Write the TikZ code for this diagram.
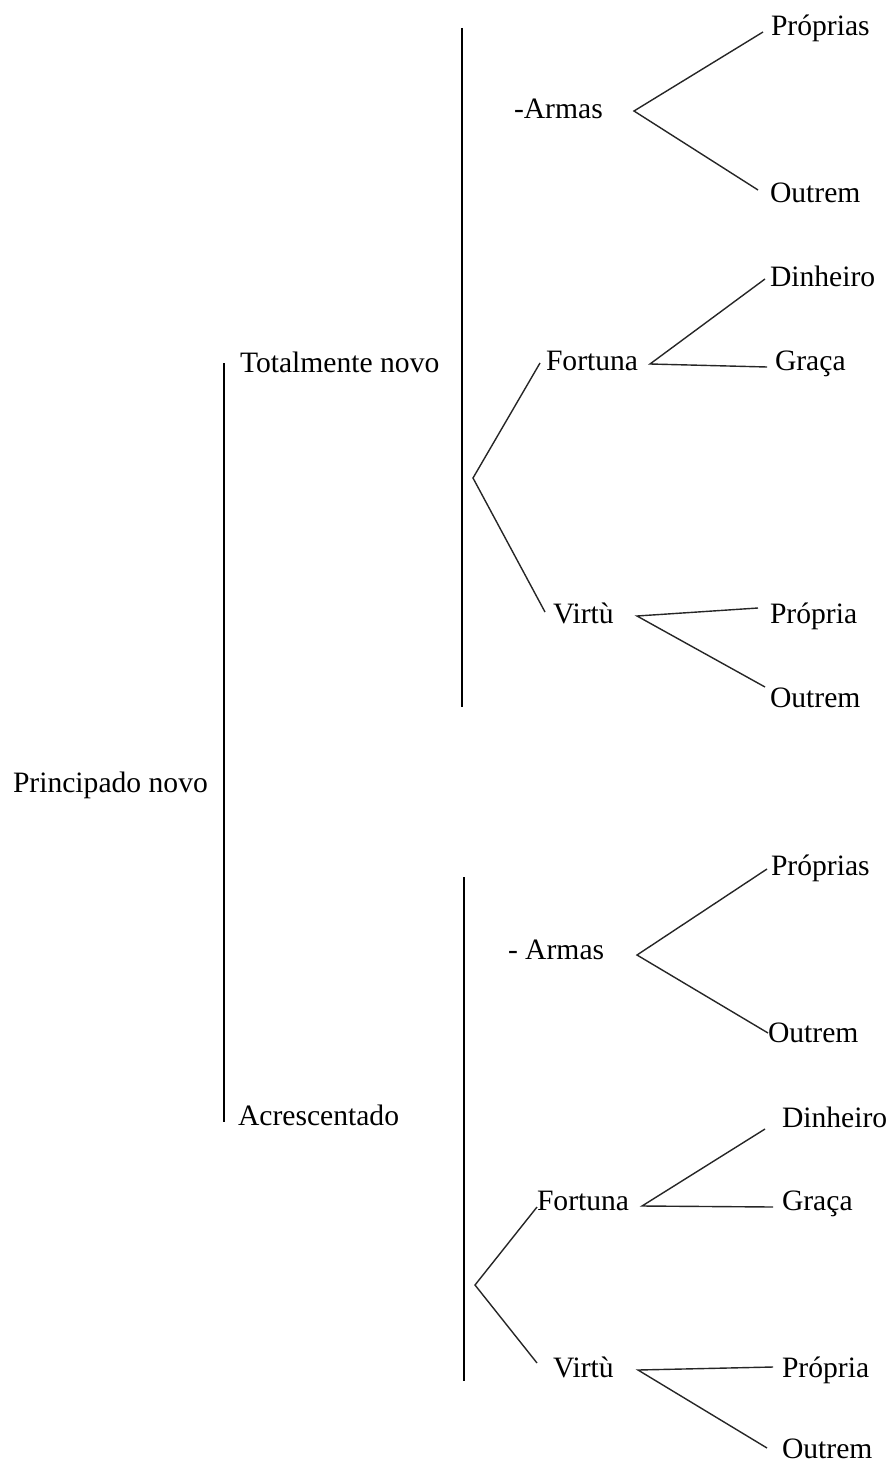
\documentclass[tikz,border=0pt]{standalone}
\usepackage{fontspec}
\setmainfont{Liberation Serif}
\begin{document}
\begin{tikzpicture}[x=0.5pt,y=-0.5pt,
  label/.style={anchor=base west,inner sep=0pt,outer sep=0pt,
    font=\fontsize{14.8}{17}\selectfont},
  link/.style={line width=0.7pt,draw=black!85},
  bar/.style={line width=0.8pt,draw=black}]
\useasboundingbox (0,0) rectangle (891,1465);

% ---- labels ----
\node[label] (root) at (13,792) {Principado novo};
\node[label] (tot)  at (240,372) {Totalmente novo};
\node[label] (acr)  at (238,1125) {Acrescentado};

% upper branch
\node[label] (armA) at (514,119) {-Armas};
\node[label] (proA) at (771,36) {Próprias};
\node[label] (outA) at (770,203) {Outrem};
\node[label] (forA) at (546,370) {Fortuna};
\node[label] (dinA) at (770,287) {Dinheiro};
\node[label] (graA) at (775,370) {Graça};
\node[label] (virA) at (553,623) {Virtù};
\node[label] (prpA) at (770,623) {Própria};
\node[label] (ouvA) at (770,707) {Outrem};

% lower branch
\node[label] (armB) at (508,959) {- Armas};
\node[label] (proB) at (771,875) {Próprias};
\node[label] (outB) at (768,1042) {Outrem};
\node[label] (forB) at (537,1210) {Fortuna};
\node[label] (dinB) at (782,1127) {Dinheiro};
\node[label] (graB) at (782,1210) {Graça};
\node[label] (virB) at (553,1377) {Virtù};
\node[label] (prpB) at (782,1377) {Própria};
\node[label] (ouvB) at (782,1458) {Outrem};

% ---- bracket bars ----
\coordinate (b1t) at (224,363);  \coordinate (b1b) at (224,1122);
\coordinate (b2t) at (462,28);   \coordinate (b2b) at (462,707);
\coordinate (b3t) at (464,877);  \coordinate (b3b) at (464,1381);
\draw[bar] (b1t) -- (b1b);
\draw[bar] (b2t) -- (b2b);
\draw[bar] (b3t) -- (b3b);

% ---- fork points and line ends ----
\coordinate (armAv) at (634,111);
\coordinate (proAe) at (763,32);  \coordinate (outAe) at (758,190);
\coordinate (fvA)   at (473,478);
\coordinate (forAe) at (540,363); \coordinate (virAe) at (545,612);
\coordinate (forAv) at (650,364);
\coordinate (dinAe) at (765,279); \coordinate (graAe) at (767,367);
\coordinate (virAv) at (637,616);
\coordinate (prpAe) at (758,608); \coordinate (ouvAe) at (765,687);

\coordinate (armBv) at (637,955);
\coordinate (proBe) at (767,869); \coordinate (outBe) at (768,1033);
\coordinate (fvB)   at (475,1285);
\coordinate (forBe) at (537,1207); \coordinate (virBe) at (537,1363);
\coordinate (forBv) at (642,1206);
\coordinate (dinBe) at (765,1129); \coordinate (graBe) at (773,1207);
\coordinate (virBv) at (638,1370);
\coordinate (prpBe) at (773,1367); \coordinate (ouvBe) at (767,1448);

% ---- connectors ----
\draw[link] (proAe) -- (armAv) -- (outAe);
\draw[link] (forAe) -- (fvA) -- (virAe);
\draw[link] (dinAe) -- (forAv) -- (graAe);
\draw[link] (prpAe) -- (virAv) -- (ouvAe);

\draw[link] (proBe) -- (armBv) -- (outBe);
\draw[link] (forBe) -- (fvB) -- (virBe);
\draw[link] (dinBe) -- (forBv) -- (graBe);
\draw[link] (prpBe) -- (virBv) -- (ouvBe);
\end{tikzpicture}
\end{document}
